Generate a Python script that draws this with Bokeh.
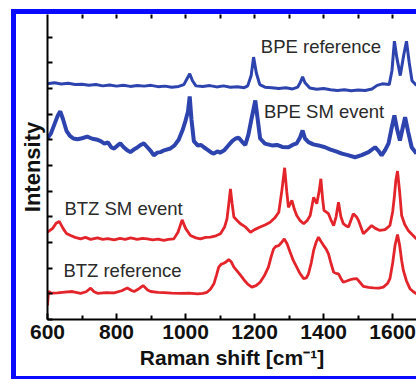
from bokeh.plotting import figure
from bokeh.models import LinearAxis, Label, FixedTicker, Range1d, Div, Spacer
from bokeh.layouts import row, column
from bokeh.embed import file_html
from bokeh.resources import INLINE

# ---- data ----
bpe_ref_x = [600, 620, 640, 660, 680, 700, 720, 740, 760, 780, 800, 820, 840, 860, 880, 900, 920, 940, 960, 980,
             995, 1005, 1012, 1020, 1030, 1050, 1070, 1090, 1110, 1130, 1150, 1170, 1180, 1190, 1197, 1205, 1215,
             1230, 1250, 1270, 1290, 1310, 1325, 1333, 1339, 1346, 1360, 1380, 1400, 1420, 1440, 1460, 1480, 1500,
             1520, 1540, 1555, 1570, 1590, 1598, 1605, 1612, 1622, 1632, 1640, 1648, 1656, 1669]
bpe_ref_y = [9.18, 9.22, 9.17, 9.20, 9.15, 9.16, 9.12, 9.15, 9.10, 9.13, 9.09, 9.12, 9.08, 9.11, 9.09, 9.12, 9.07, 9.09, 9.05, 9.08,
             9.15, 9.40, 9.57, 9.30, 9.10, 9.08, 9.11, 9.06, 9.10, 9.05, 9.07, 9.03, 9.10, 9.50, 10.22, 9.60, 9.15,
             9.05, 9.03, 9.00, 9.03, 8.98, 9.05, 9.25, 9.45, 9.22, 9.02, 8.97, 9.00, 8.95, 8.92, 8.95, 8.91, 8.94,
             8.92, 8.98, 9.12, 9.18, 9.15, 9.70, 10.84, 10.20, 9.50, 10.30, 10.84, 10.00, 9.30, 9.12]

bpe_sm_x = [600, 610, 620, 630, 637, 645, 655, 665, 675, 687, 700, 715, 730, 745, 754, 765, 775, 785, 793, 803, 811, 820,
            830, 840, 850, 860, 870, 879, 890, 900, 908, 918, 927, 940, 956, 968, 980, 992, 1000, 1007, 1012, 1017, 1024,
            1035, 1045, 1053, 1065, 1075, 1082, 1092, 1100, 1111, 1122, 1135, 1145, 1154, 1165, 1173, 1182, 1190, 1197,
            1202, 1208, 1216, 1230, 1250, 1265, 1280, 1298, 1310, 1322, 1332, 1339, 1346, 1356, 1370, 1385, 1404, 1420,
            1436, 1453, 1470, 1491, 1510, 1530, 1549, 1560, 1568, 1578, 1588, 1596, 1605, 1613, 1621, 1628, 1636, 1645,
            1655, 1669]
bpe_sm_y = [7.05, 7.25, 7.60, 7.95, 8.11, 7.80, 7.35, 7.15, 7.05, 7.02, 7.06, 7.12, 7.04, 7.00, 6.95, 6.85, 6.90, 6.70, 6.66, 6.78, 6.86, 6.72,
            6.60, 6.52, 6.62, 6.70, 6.80, 6.86, 6.70, 6.55, 6.39, 6.50, 6.52, 6.60, 6.66, 6.78, 7.00, 7.40, 7.75, 8.10, 8.69, 7.80, 6.95,
            6.78, 6.80, 6.71, 6.60, 6.50, 6.46, 6.55, 6.50, 6.58, 6.75, 6.95, 7.05, 7.08, 6.90, 6.80, 7.20, 7.75, 8.20,
            8.53, 7.90, 7.05, 6.85, 6.78, 6.80, 6.72, 6.71, 6.80, 6.86, 7.10, 7.36, 7.05, 6.91, 6.82, 6.78, 6.71, 6.62,
            6.55, 6.46, 6.40, 6.32, 6.40, 6.52, 6.71, 6.55, 6.39, 6.60, 6.86, 7.40, 7.95, 7.40, 6.97, 7.40, 7.88, 7.30,
            6.71, 6.46]

btz_sm_x = [600, 615, 625, 634, 645, 655, 667, 680, 696, 710, 725, 745, 760, 775, 793, 810, 825, 841, 860, 875, 889, 905,
            920, 937, 950, 966, 978, 990, 1000, 1014, 1030, 1043, 1058, 1072, 1088, 1101, 1113, 1120, 1126, 1130, 1135,
            1140, 1150, 1159, 1172, 1188, 1200, 1216, 1230, 1245, 1258, 1270, 1279, 1287, 1293, 1298, 1308, 1315, 1322,
            1332, 1342, 1352, 1361, 1371, 1380, 1387, 1392, 1397, 1401, 1414, 1422, 1429, 1436, 1443, 1450, 1457, 1465,
            1472, 1486, 1495, 1501, 1515, 1527, 1539, 1550, 1563, 1578, 1592, 1600, 1605, 1609, 1614, 1620, 1626, 1635,
            1645, 1657, 1669]
btz_sm_y = [3.40, 3.55, 3.75, 3.82, 3.55, 3.35, 3.27, 3.20, 3.14, 3.20, 3.12, 3.18, 3.12, 3.15, 3.10, 3.16, 3.12, 3.18, 3.12, 3.16, 3.14, 3.10,
            3.13, 3.08, 3.12, 3.14, 3.40, 3.88, 3.55, 3.27, 3.18, 3.14, 3.20, 3.21, 3.26, 3.34, 3.60, 3.92, 4.60, 5.09, 4.50,
            3.99, 3.85, 3.73, 3.62, 3.40, 3.50, 3.60, 3.68, 3.79, 3.95, 4.18, 5.03, 5.91, 5.00, 4.37, 4.64, 4.30, 4.05,
            3.85, 3.73, 3.85, 4.05, 4.76, 4.51, 5.00, 5.48, 4.70, 4.25, 4.12, 3.85, 3.66, 4.00, 4.57, 4.00, 3.73, 3.65,
            3.60, 4.12, 4.00, 3.86, 3.34, 3.50, 3.66, 3.55, 3.47, 3.50, 3.66, 4.20, 4.80, 5.40, 5.78, 5.00, 4.05, 3.70,
            3.47, 3.30, 3.14]

btz_ref_x = [600, 603, 610, 629, 650, 672, 696, 712, 725, 735, 745, 770, 793, 815, 831, 845, 851, 865, 877, 890, 899, 920,
             937, 960, 985, 1010, 1034, 1050, 1062, 1072, 1082, 1090, 1096, 1104, 1111, 1118, 1125, 1132, 1140, 1155, 1169,
             1180, 1192, 1204, 1216, 1228, 1240, 1248, 1255, 1262, 1270, 1278, 1286, 1294, 1303, 1312, 1322, 1332, 1342,
             1350, 1356, 1364, 1371, 1378, 1385, 1392, 1400, 1407, 1414, 1421, 1429, 1436, 1443, 1450, 1457, 1467, 1477,
             1487, 1496, 1505, 1515, 1530, 1544, 1560, 1573, 1585, 1592, 1600, 1607, 1614, 1620, 1626, 1631, 1640, 1650,
             1660, 1669]
btz_ref_y = [0.55, 1.10, 1.03, 1.04, 1.07, 1.09, 1.02, 1.08, 1.22, 1.08, 1.02, 1.05, 1.04, 1.12, 1.23, 1.12, 1.09, 1.20, 1.32, 1.15, 1.09, 1.06,
             1.05, 1.03, 1.02, 1.03, 1.00, 1.02, 1.06, 1.18, 1.39, 1.75, 2.04, 2.16, 2.19, 2.25, 2.34, 2.25, 2.04, 1.80, 1.55,
             1.38, 1.26, 1.32, 1.45, 1.70, 2.04, 2.45, 2.75, 2.85, 2.88, 3.00, 3.14, 2.95, 2.62, 2.30, 2.04, 1.78, 1.59,
             1.62, 1.78, 2.20, 2.69, 3.00, 3.21, 3.05, 2.88, 2.75, 2.56, 2.20, 1.84, 1.80, 1.78, 1.60, 1.45, 1.50, 1.55,
             1.58, 1.59, 1.45, 1.29, 1.25, 1.23, 1.22, 1.26, 1.40, 1.59, 2.20, 2.90, 3.31, 2.90, 2.30, 1.91, 1.50, 1.20,
             1.08, 1.00]

x_major = [600, 800, 1000, 1200, 1400, 1600]
x_minor = [700, 900, 1100, 1300, 1500]
x_top = [700, 800, 900, 1000, 1100, 1200, 1300, 1400, 1500, 1600]
y_ticks = [0, 1, 2, 3, 4, 5, 6, 7, 8, 9, 10, 11]

labels = ["BPE reference", "BPE SM event", "BTZ SM event", "BTZ reference"]
label_x = [1218, 1227, 649, 646]
label_y = [10.62, 8.12, 4.34, 1.91]

BLUE = "#2d43ad"
RED = "#e3242b"
FRAME = "#0a0aff"
FONT = "Liberation Sans"

p = figure(width=400, height=362, output_backend="svg", toolbar_location=None,
           x_range=Range1d(600, 1669), y_range=Range1d(0, 11.88),
           min_border_left=30, min_border_right=0, min_border_top=0, min_border_bottom=57,
           background_fill_color="white", border_fill_color="white", margin=0)
p.outline_line_color = None
p.xgrid.visible = False
p.ygrid.visible = False

xa = p.xaxis[0]
xa.ticker = FixedTicker(ticks=x_major, minor_ticks=x_minor)
xa.major_tick_in = 6
xa.major_tick_out = 0
xa.minor_tick_in = 4
xa.minor_tick_out = 0
xa.axis_line_width = 2
xa.major_tick_line_width = 2
xa.minor_tick_line_width = 2
xa.major_label_text_font = FONT
xa.major_label_text_font_style = "bold"
xa.major_label_text_font_size = "21px"
xa.major_label_text_color = "#111111"
xa.major_label_standoff = 5
xa.axis_label = "Raman shift [cm\u207b\u00b9]"
xa.axis_label_text_font = FONT
xa.axis_label_text_font_style = "bold"
xa.axis_label_text_font_size = "21px"
xa.axis_label_text_color = "#111111"
xa.axis_label_standoff = 4

ya = p.yaxis[0]
ya.ticker = FixedTicker(ticks=y_ticks)
ya.major_label_text_font_size = "1px"
ya.major_label_text_color = None
ya.major_label_standoff = 0
ya.major_tick_in = 5
ya.major_tick_out = 0
ya.minor_tick_line_color = None
ya.axis_line_width = 2
ya.major_tick_line_width = 2
ya.axis_label = "Intensity"
ya.axis_label_text_font = FONT
ya.axis_label_text_font_style = "bold"
ya.axis_label_text_font_size = "22px"
ya.axis_label_text_color = "#111111"
ya.axis_label_standoff = 3

top = LinearAxis(ticker=FixedTicker(ticks=x_top), axis_line_color=None,
                 major_label_text_font_size="1px", major_label_text_color=None,
                 major_label_standoff=0,
                 major_tick_in=4, major_tick_out=0, major_tick_line_width=2,
                 minor_tick_line_color=None)
p.add_layout(top, "above")

p.line(bpe_ref_x, bpe_ref_y, line_color=BLUE, line_width=3)
p.line(bpe_sm_x, bpe_sm_y, line_color=BLUE, line_width=4)
p.line(btz_sm_x, btz_sm_y, line_color=RED, line_width=2.8)
p.line(btz_ref_x, btz_ref_y, line_color=RED, line_width=2.8)

for t, lx, ly in zip(labels, label_x, label_y):
    p.add_layout(Label(x=lx, y=ly, text=t, text_font=FONT, text_font_size="18.5px",
                       text_color="#2a2a2a", text_baseline="middle"))

# blue highlight frame drawn around the chart (left, top and bottom bars)
bar_style = {"background-color": FRAME}
left_bar = Div(text="", width=5, height=370, margin=0, styles=bar_style)
top_bar = Div(text="", width=400, height=5, margin=0, styles=bar_style)
bottom_bar = Div(text="", width=400, height=3, margin=0, styles=bar_style)

layout = column(Spacer(width=416, height=9, margin=0),
                row(Spacer(width=11, height=370, margin=0), left_bar,
                    column(top_bar, p, bottom_bar, spacing=0, margin=0), spacing=0, margin=0),
                spacing=0, margin=0)

open("out.html", "w").write(file_html(layout, INLINE))
